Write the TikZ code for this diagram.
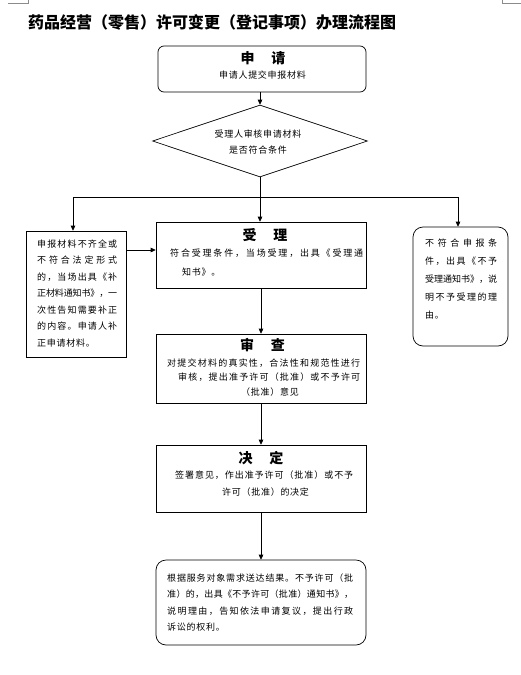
\documentclass[tikz,border=0pt]{standalone}
\usepackage{fontspec}
\setmainfont{Noto Sans CJK SC}
\newfontfamily\cjkfont{Noto Sans CJK SC}
\newfontfamily\bodyfont[LetterSpace=8]{Noto Sans CJK SC}
\usetikzlibrary{shapes.geometric,arrows.meta}
\makeatletter
\newcommand\jline[2]{\makebox[#1][s]{\jl@first#2\relax}}
\def\jl@first#1{#1\jl@next}
\def\jl@next#1{\ifx\relax#1\else\hskip 0pt plus 1fil minus 2pt#1\expandafter\jl@next\fi}
\makeatother
\tikzset{
  frame/.style={draw=black, line width=0.7pt, inner sep=0pt},
  arr/.style={draw=black, line width=0.7pt, -{Triangle[length=5pt,width=4.6pt]}},
  ln/.style={draw=black, line width=0.7pt},
  cropmark/.style={draw=black!45, line width=0.5pt},
  headtxt/.style={font=\cjkfont\bfseries\fontsize{14}{16}\selectfont, inner sep=0pt},
  bodytxt/.style={font=\bodyfont\fontsize{9}{#1}\selectfont, inner sep=0pt, align=left, anchor=west},
  bodytxt/.default=16.5,
}
\begin{document}
\begin{tikzpicture}[x=1pt,y=-1pt]
\useasboundingbox (0,0) rectangle (521,675);
\fill[white] (0,0) rectangle (521,675);
% corner marks
\draw[cropmark] (8,3.5) -- (28.5,3.5) -- (28.5,0);
\draw[cropmark] (521,3.5) -- (502.5,3.5) -- (502.5,0);
% title
\node[anchor=west, inner sep=0pt, font=\cjkfont\bfseries\fontsize{16}{18}\selectfont] (title) at (28,22) {药品经营（零售）许可变更（登记事项）办理流程图};
% boxes
\node[frame, rounded corners=6pt, minimum width=208pt, minimum height=46pt] (apply) at (262,69) {};
\node[frame, diamond, minimum width=215pt, minimum height=72pt] (dia) at (260,141) {};
\node[frame, minimum width=210pt, minimum height=66pt] (accept) at (261,255) {};
\node[frame, minimum width=100pt, minimum height=126pt] (lbox) at (76,294) {};
\node[frame, rounded corners=10pt, minimum width=95pt, minimum height=119pt] (rbox) at (460.5,286.5) {};
\node[frame, minimum width=210pt, minimum height=69pt] (review) at (261,368.5) {};
\node[frame, minimum width=210pt, minimum height=67pt] (decide) at (261,478.5) {};
\node[frame, rounded corners=10pt, minimum width=210pt, minimum height=85pt] (result) at (261,602.5) {};
% texts
\node[headtxt] (applyH) at (263,58) {申\hspace{1.2em}请};
\node[bodytxt, anchor=center] (applyT) at (262.5,75) {申请人提交申报材料};
\node[bodytxt=16, anchor=center, align=center] (diaT) at (258,142) {受理人审核申请材料\\是否符合条件};
\node[headtxt] (acceptH) at (265,235) {受\hspace{1.2em}理};
\node[bodytxt=18.5] (acceptT) at (170,262.5) {\jline{193pt}{符合受理条件，当场受理，出具《受理通}\\\hspace*{12pt}知书》。};
\node[bodytxt=16.5] (lboxT) at (37,293.5) {\jline{80pt}{申报材料不齐全或}\\
\jline{80pt}{不符合法定形式}\\
\jline{80pt}{的，当场出具《补}\\
\jline{80pt}{正材料通知书》，一}\\
\jline{80pt}{次性告知需要补正}\\
\jline{80pt}{的内容。申请人补}\\
正申请材料。};
\node[bodytxt=18] (rboxT) at (425,279) {\jline{72pt}{不符合申报条}\\
\jline{72pt}{件，出具《不予}\\
\jline{72pt}{受理通知书》，说}\\
\jline{72pt}{明不予受理的理}\\
由。};
\node[headtxt] (reviewH) at (262.5,345) {审\hspace{1.2em}查};
\node[bodytxt=14.5] (reviewT) at (167,377.5) {\jline{193pt}{对提交材料的真实性，合法性和规范性进行}\\
\hspace*{11pt}\jline{182pt}{审核，提出准予许可（批准）或不予许可}\\
\hspace*{74pt}（批准）意见};
\node[headtxt] (decideH) at (261,458) {决\hspace{1.2em}定};
\node[bodytxt=17] (decideT) at (175,483.5) {\jline{178pt}{签署意见，作出准予许可（批准）或不予}\\
\hspace*{47pt}许可（批准）的决定};
\node[bodytxt=16.33] (resultT) at (167,602.5) {\jline{186pt}{根据服务对象需求送达结果。不予许可（批}\\
\jline{186pt}{准）的，出具《不予许可（批准）通知书》，}\\
\jline{186pt}{说明理由，告知依法申请复议，提出行政}\\
诉讼的权利。};
% connectors
\draw[arr] (apply.south -| dia.north) -- (dia.north);
\draw[arr] (dia.south) -- (dia.south |- accept.north);
\draw[arr] (dia.south) -- ++(0,20) -| ([xshift=-3pt]lbox.north);
\draw[arr] (dia.south) -- ++(0,20) -| ([xshift=-2.5pt]rbox.north);
\draw[arr] ([yshift=44pt]lbox.east) -- ([yshift=44pt]lbox.east -| accept.west);
\draw[arr] (accept.south) -- (review.north);
\draw[arr] (review.south) -- (decide.north);
\draw[arr] (decide.south) -- (result.north);
\end{tikzpicture}
\end{document}
